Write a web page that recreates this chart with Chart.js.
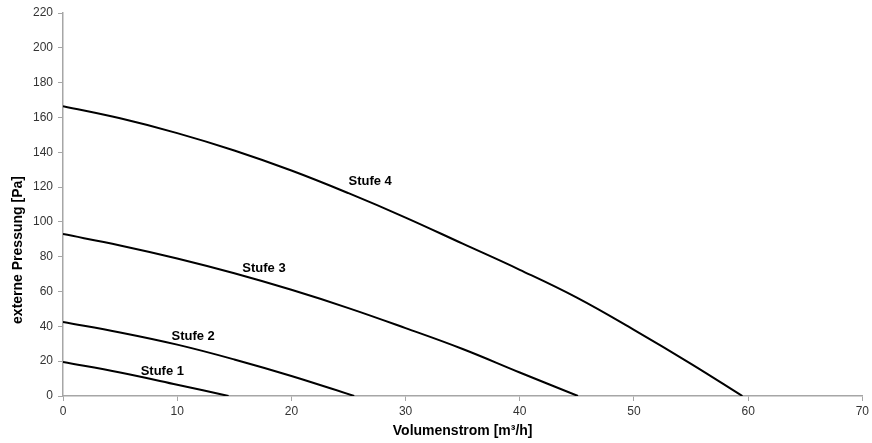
<!DOCTYPE html>
<html>
<head>
<meta charset="utf-8">
<script src="https://cdn.jsdelivr.net/npm/chart.js@4/dist/chart.umd.min.js"></script>
<style>
  html, body { margin: 0; padding: 0; background: #fff; }
  #wrap { width: 872px; height: 443px; }
</style>
</head>
<body>
<div id="wrap"><canvas id="chart"></canvas></div>
<script>
// values: x = Volumenstrom [m³/h], y = externe Pressung [Pa]
var stufe1 = [[0, 19.5], [5, 13.5], [10, 6.5], [14.5, 0]];
var stufe2 = [[0, 42.5], [5, 36.5], [10, 29.5], [15, 21], [20, 11.5], [25.5, 0]];
var stufe3 = [[0, 93], [5, 86.5], [10, 79], [15, 70.5], [20, 61], [25, 50.5], [30, 39], [35, 27], [40, 13.5], [45.1, 0]];
var stufe4 = [[0, 166.5], [5, 159.5], [10, 151], [15, 141], [20, 129.5], [25, 116.5], [30, 102.5], [35, 87.5], [40, 72.5], [45, 56.5], [50, 38], [55, 18.5], [59.5, 0]];

var seriesNames = ['Stufe 1', 'Stufe 2', 'Stufe 3', 'Stufe 4'];
// label anchor positions in data units
var labelPos = [[8.7, 14.3], [11.4, 34.4], [17.6, 73.4], [26.9, 123.5]];

var xTicks = [0, 10, 20, 30, 40, 50, 60, 70];
var yTicks = [0, 20, 40, 60, 80, 100, 120, 140, 160, 180, 200, 220];

var xTitle = 'Volumenstrom [m³/h]';
var yTitle = 'externe Pressung [Pa]';

function toPoints(arr) {
    return arr.map(p => ({ x: p[0], y: p[1] }));
}

var textFont = '"Liberation Sans", Arial, sans-serif';

var curveLabels = {
    id: 'curveLabels',
    afterDatasetsDraw(chart) {
        var ctx = chart.ctx;
        ctx.save();
        ctx.font = 'bold 13px ' + textFont;
        ctx.fillStyle = '#000';
        ctx.textAlign = 'center';
        ctx.textBaseline = 'middle';
        seriesNames.forEach((name, i) => {
            var px = chart.scales.x.getPixelForValue(labelPos[i][0]);
            var py = chart.scales.y.getPixelForValue(labelPos[i][1]);
            ctx.fillText(name, px, py);
        });

        // axis titles, placed like the original (y title sits below the middle)
        ctx.font = 'bold 14px ' + textFont;
        var area = chart.chartArea;
        ctx.fillText(xTitle, (area.left + area.right) / 2, 431);
        ctx.translate(18, 250);
        ctx.rotate(-Math.PI / 2);
        ctx.fillText(yTitle, 0, 0);
        ctx.restore();
    }
};

var lineStyle = {
    borderColor: '#000',
    borderWidth: 2,
    pointRadius: 0,
    fill: false,
    tension: 0.4
};

new Chart(document.getElementById('chart').getContext('2d'), {
    type: 'scatter',
    data: {
        datasets: [stufe1, stufe2, stufe3, stufe4].map((s, i) => Object.assign({
            label: seriesNames[i],
            data: toPoints(s),
            showLine: true
        }, lineStyle))
    },
    options: {
        responsive: true,
        maintainAspectRatio: false,
        animation: false,
        layout: { padding: { top: 13, right: 9, left: 0, bottom: 0 } },
        plugins: {
            legend: { display: false },
            tooltip: { enabled: false }
        },
        scales: {
            x: {
                type: 'linear',
                min: 0,
                max: 70,
                afterBuildTicks: axis => { axis.ticks = xTicks.map(v => ({ value: v })); },
                afterFit: axis => { axis.height = 47; },
                border: { color: '#a6a6a6', width: 1.5 },
                grid: { drawOnChartArea: false, color: '#a6a6a6', tickLength: 5 },
                ticks: {
                    color: '#333',
                    padding: 3,
                    maxRotation: 0,
                    font: { family: textFont, size: 12 }
                }
            },
            y: {
                type: 'linear',
                min: 0,
                max: 220,
                afterBuildTicks: axis => { axis.ticks = yTicks.map(v => ({ value: v })); },
                afterFit: axis => { axis.width = 63; },
                border: { color: '#a6a6a6', width: 1.5 },
                grid: { drawOnChartArea: false, color: '#a6a6a6', tickLength: 5 },
                ticks: {
                    color: '#333',
                    padding: 5,
                    font: { family: textFont, size: 12 }
                }
            }
        }
    },
    plugins: [curveLabels]
});
</script>
</body>
</html>
